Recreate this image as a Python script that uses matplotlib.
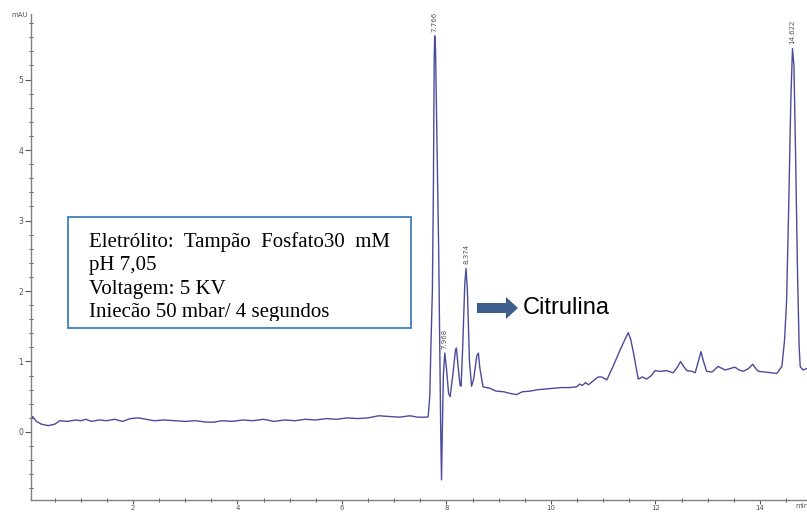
import matplotlib.pyplot as plt
import matplotlib.patches as mpatches
from matplotlib.transforms import Affine2D
from matplotlib.ticker import MultipleLocator

# electropherogram trace (min, mAU)
time_min = [0.05, 0.08, 0.15, 0.25, 0.38, 0.5, 0.6, 0.75, 0.9, 1.0, 1.1, 1.2, 1.35, 1.5,
            1.65, 1.8, 1.95, 2.1, 2.25, 2.4, 2.6, 2.8, 3.0, 3.2, 3.4, 3.55, 3.7, 3.9, 4.1,
            4.3, 4.5, 4.7, 4.9, 5.1, 5.3, 5.5, 5.7, 5.9, 6.1, 6.3, 6.5, 6.7, 6.9, 7.1, 7.3,
            7.45, 7.62, 7.65, 7.68, 7.70, 7.73, 7.75, 7.765, 7.775, 7.79, 7.82, 7.85, 7.875,
            7.89, 7.905, 7.92, 7.94, 7.968, 8.0, 8.04, 8.07, 8.12, 8.17, 8.19, 8.22, 8.26,
            8.28, 8.31, 8.35, 8.374, 8.40, 8.44, 8.48, 8.52, 8.58, 8.61, 8.64, 8.70, 8.83,
            8.95, 9.1, 9.2, 9.34, 9.45, 9.6, 9.75, 9.9, 10.05, 10.2, 10.35, 10.49, 10.55,
            10.6, 10.66, 10.72, 10.8, 10.9, 10.97, 11.07, 11.2, 11.32, 11.42, 11.48, 11.53,
            11.58, 11.67, 11.75, 11.83, 11.92, 11.99, 12.1, 12.21, 12.34, 12.42, 12.48,
            12.54, 12.6, 12.7, 12.76, 12.82, 12.87, 12.92, 12.98, 13.08, 13.2, 13.33, 13.43,
            13.52, 13.6, 13.68, 13.78, 13.86, 13.92, 13.97, 14.1, 14.22, 14.32, 14.42,
            14.47, 14.51, 14.55, 14.59, 14.622, 14.65, 14.68, 14.72, 14.75, 14.77, 14.82, 14.9]
signal_mau = [0.17, 0.22, 0.15, 0.11, 0.09, 0.11, 0.16, 0.15, 0.17, 0.16, 0.18, 0.15, 0.17, 0.16,
              0.18, 0.15, 0.19, 0.2, 0.18, 0.16, 0.17, 0.16, 0.15, 0.16, 0.14, 0.14, 0.16, 0.15, 0.17,
              0.16, 0.18, 0.15, 0.17, 0.16, 0.18, 0.17, 0.19, 0.18, 0.2, 0.19, 0.2, 0.23, 0.22, 0.21, 0.23,
              0.21, 0.21, 0.22, 0.5, 1.16, 2.0, 3.5, 5.3, 5.62, 5.45, 4.0, 2.6, 1.0,
              0.0, -0.68, 0.0, 0.8, 1.12, 0.9, 0.55, 0.5, 0.8, 1.15, 1.19, 0.95, 0.66,
              0.65, 1.2, 2.1, 2.32, 2.0, 1.0, 0.65, 0.75, 1.08, 1.12, 0.9, 0.64, 0.62,
              0.58, 0.57, 0.55, 0.53, 0.57, 0.58, 0.6, 0.61, 0.62, 0.63, 0.63, 0.64, 0.68,
              0.66, 0.7, 0.67, 0.72, 0.78, 0.78, 0.74, 0.95, 1.16, 1.32, 1.41, 1.3,
              1.12, 0.75, 0.78, 0.75, 0.8, 0.87, 0.86, 0.87, 0.84, 0.92, 1.0,
              0.93, 0.87, 0.86, 0.84, 1.0, 1.14, 1.0, 0.86, 0.85, 0.93, 0.88, 0.9,
              0.92, 0.88, 0.86, 0.9, 0.96, 0.9, 0.86, 0.85, 0.84, 0.83, 0.93,
              1.3, 1.87, 3.2, 4.7, 5.44, 5.2, 4.0, 2.2, 1.2, 0.93, 0.88, 0.9]

peak_times = [7.766, 7.968, 8.374, 14.622]
peak_heights = [5.62, 1.12, 2.32, 5.44]
peak_labels = ["7.766", "7.968", "8.374", "14.622"]

info_lines = ["Eletrólito:  Tampão  Fosfato30  mM", "pH 7,05", "Voltagem: 5 KV",
              "Iniecão 50 mbar/ 4 segundos"]

W, H = 807, 513
fig = plt.figure(figsize=(W / 100, H / 100), dpi=100)
ax = fig.add_axes([31 / W, 13 / H, (W - 31) / W, 486 / H])

line_col = "#4b4b9c"
ax.plot(time_min, signal_mau, color=line_col, lw=1.0)

ax.set_xlim(0.048, 14.9)
ax.set_ylim(-0.965, 5.93)
for s in ["top", "right"]:
    ax.spines[s].set_visible(False)
for s in ["left", "bottom"]:
    ax.spines[s].set_color("#808080")
    ax.spines[s].set_linewidth(1.0)

ax.xaxis.set_major_locator(MultipleLocator(2))
ax.xaxis.set_minor_locator(MultipleLocator(0.5))
ax.yaxis.set_major_locator(MultipleLocator(1))
ax.yaxis.set_minor_locator(MultipleLocator(0.2))
ax.tick_params(which="major", length=4, width=0.8, color="#555555",
               labelsize=5.5, labelcolor="#555555", pad=1.5)
ax.tick_params(axis="x", which="major", length=3, pad=0.5, labelsize=5)
ax.tick_params(which="minor", direction="inout", length=3, width=0.7, color="#555555")
ax.set_xticks([t for t in range(2, 15, 2)])

# peak retention-time labels
for t, h, lab in zip(peak_times, peak_heights, peak_labels):
    ax.annotate(lab, (t, h), xytext=(0, 3), textcoords="offset points",
                rotation=90, ha="center", va="bottom", fontsize=5, color="#555555")

# pixel coordinates of the picture -> display
px = Affine2D().scale(1, -1).translate(0, H)

fig.text(20, 15, "mAU", transform=px, fontsize=5, color="#555555", ha="center", va="center")
fig.text(795, 506, "min", transform=px, fontsize=5, color="#555555", ha="left", va="center")

# info box (last line is cut by the frame, like the original)
box = mpatches.Rectangle((68, 217), 343, 111, transform=px, fill=False,
                         ec="#2e75b6", lw=1.2)
fig.add_artist(box)
clip = mpatches.Rectangle((68, 217), 343, 104, transform=px)
for i, txt in enumerate(info_lines):
    t = fig.text(89, 247 + i * 23.3, txt, transform=px, family="Liberation Serif",
                 fontsize=15, color="black", ha="left", va="baseline")
    t.set_clip_path(clip)

# arrow pointing to citrulina
arr = mpatches.FancyArrow(477, 308, 41, 0, width=10, head_width=22, head_length=12,
                          length_includes_head=True, transform=px, color="#3e5f8e", lw=0)
fig.add_artist(arr)
fig.text(523, 308, "Citrulina", transform=px, family="Liberation Sans",
         fontsize=17, color="black", ha="left", va="center")

fig.savefig("out.png", dpi=100)
